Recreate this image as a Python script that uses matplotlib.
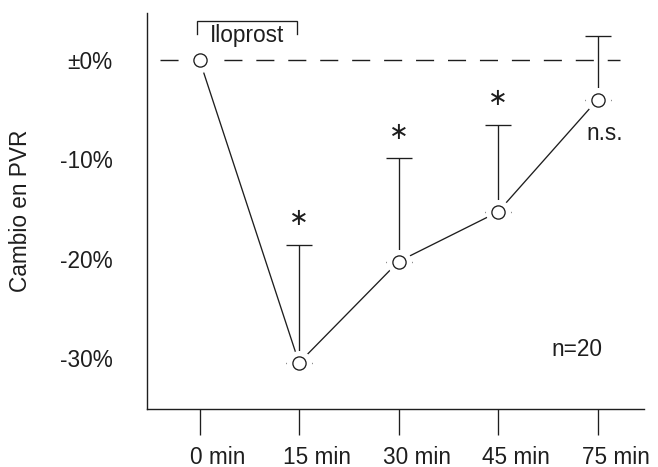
import matplotlib
matplotlib.use("Agg")
import matplotlib.pyplot as plt
import matplotlib.transforms as mtransforms
import numpy as np

plt.rcParams['font.family'] = ['Liberation Sans', 'DejaVu Sans']

# ---- data ----
categories = ['0 min', '15 min', '30 min', '45 min', '75 min']
pvr_change = [0.0, -30.5, -20.3, -15.3, -4.0]        # % change in PVR
err_upper = [0.0, 11.9, 10.4, 8.8, 6.4]             # upper error (SD) in %
significance = ['', '*', '*', '*', 'n.s.']
ytick_values = [-30, -20, -10, 0]
ytick_labels = ['-30%', '-20%', '-10%', '±0%']
bracket_label = 'Iloprost'
n_label = 'n=20'

ink = '#1e1e1e'
fs = 16.3

fig = plt.figure(figsize=(6.58, 4.67), dpi=100)
W, H = 658, 467
ax = fig.add_axes([147 / W, 1 - 409 / H, (644 - 147) / W, (409 - 13) / H])

x = np.arange(len(categories))

# reference line at 0 %
ax.axhline(0, xmin=0.026, xmax=0.952, color=ink, lw=1.0, dashes=(13, 10), zorder=1)

# connecting line
ax.plot(x, pvr_change, color=ink, lw=0.95, zorder=2)

# upper-only error bars (skip baseline point)
idx = x[1:]
vals = np.array(pvr_change)[1:]
up = np.array(err_upper)[1:]
ax.errorbar(idx, vals, yerr=[np.zeros_like(up), up], fmt='none', ecolor=ink,
            elinewidth=0.95, capsize=9.7, capthick=0.95, zorder=2)

# white halo then open circles
ax.plot(x, pvr_change, 'o', ms=17, color='white', mec='white', zorder=3)
ax.plot(x, pvr_change, 'o', ms=9.5, mfc='white', mec=ink, mew=0.95, zorder=4)

# significance marks
for xi, yi, ei, s in zip(x, pvr_change, err_upper, significance):
    if s == '*':
        ax.annotate('∗', xy=(xi, yi + ei), xytext=(0, 19), textcoords='offset points',
                    ha='center', va='center', fontsize=17, color=ink,
                    family=['DejaVu Sans'])
    elif s:
        ax.annotate(s, xy=(xi, yi), xytext=(5, -24), textcoords='offset points',
                    ha='center', va='center', fontsize=fs, color=ink)

# Iloprost bracket over first interval
bx0, bx1 = x[0] - 0.025, x[1] - 0.02
by_low, by_top = 2.62, 3.93
ax.plot([bx0, bx0, bx1, bx1], [by_low, by_top, by_top, by_low], color=ink, lw=0.95,
        solid_joinstyle='miter', zorder=2)
ax.text((bx0 + bx1) / 2, 2.45, bracket_label, ha='center', va='center', fontsize=fs,
        color=ink)

ax.text(0.865, 0.149, n_label, transform=ax.transAxes, ha='center', va='center',
        fontsize=fs, color=ink)

# axes styling
ax.set_xlim(-0.528, 4.467)
ax.set_ylim(-35.15, 4.73)
ax.set_xticks(x)
ax.set_xticklabels(categories)
ax.set_yticks(ytick_values)
ax.set_yticklabels(ytick_labels)
ax.tick_params(axis='x', length=18.7, width=0.95, pad=8.3, labelsize=fs,
               colors=ink, direction='out')
ax.tick_params(axis='y', length=0, pad=25, labelsize=fs, colors=ink)
shift = mtransforms.ScaledTranslation(18 / 100, 0, fig.dpi_scale_trans)
for lbl in ax.get_xticklabels():
    lbl.set_transform(lbl.get_transform() + shift)
for s in ['top', 'right']:
    ax.spines[s].set_visible(False)
for s in ['left', 'bottom']:
    ax.spines[s].set_linewidth(1.0)
    ax.spines[s].set_color(ink)

ax.set_ylabel('Cambio en PVR', fontsize=fs, color=ink)
ax.yaxis.set_label_coords(-0.231, 0.5)

fig.savefig('out.png', dpi=100)
